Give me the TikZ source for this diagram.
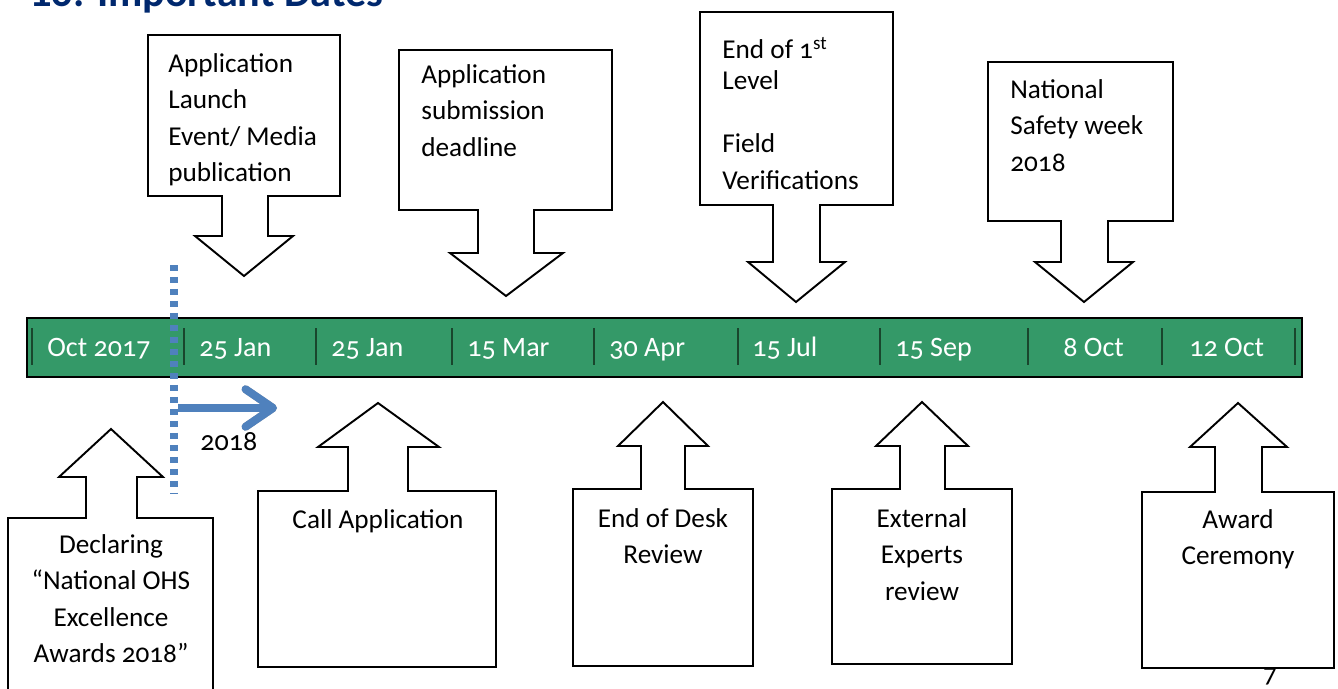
\documentclass[tikz,border=0pt]{standalone}
\usepackage{fontspec}
\setmainfont{Carlito}[Numbers=OldStyle]
\usetikzlibrary{arrows.meta}
\definecolor{bargreen}{RGB}{52,153,104}
\definecolor{sepgreen}{RGB}{25,70,45}
\definecolor{lineblue}{RGB}{79,129,189}
\definecolor{titleblue}{RGB}{0,40,110}

\begin{document}
\begin{tikzpicture}[x=0.02cm, y=-0.02cm,
  callout/.style={draw=black, fill=white, line width=1.1pt, line join=miter},
  boxtext/.style={inner sep=0pt, font=\fontsize{15.5}{20.8}\selectfont},
  datetext/.style={anchor=base west, inner sep=0pt, text=white, font=\fontsize{16}{19}\selectfont}]

\useasboundingbox (0,0) rectangle (1338,689);
\clip (0,0) rectangle (1338,689);

% heading, cut off by the top of the page
\node[anchor=base west, inner sep=0pt, text=titleblue, font=\fontsize{24}{28}\selectfont\bfseries] (title) at (30,7) {10. Important Dates};

% page number, half hidden behind the last box
\node[inner sep=0pt, font=\fontsize{15.5}{18}\selectfont] (pagenum) at (1270,677) {7};

% timeline bar
\node[draw=black, fill=bargreen, line width=1.1pt, inner sep=0pt, minimum width=25.5cm, minimum height=1.18cm, anchor=north west] (bar) at (26,317) {};

\foreach \x in {32, 184, 316, 452, 594, 738, 880, 1028, 1162, 1295}{

\draw[sepgreen, line width=1.1pt] (\x, 328) -- (\x, 365);

}

\foreach \x/\d [count=\i] in {47/Oct 2017, 199/25 Jan, 331/25 Jan, 467/15 Mar, 609/30 Apr, 752/15 Jul, 895/15 Sep, 1063/8 Oct, 1189/12 Oct}{

\node[datetext] (date\i) at (\x, 356) {\d};

}

% year change: dashed cut and arrow
\coordinate (cuttop) at (174, 265);
\coordinate (cutbot) at (174, 494);
\draw[gray!80, opacity=0.7, line width=4pt, dash pattern=on 0.12cm off 0.12cm, yshift=-0.06cm] (cuttop) -- (cutbot);
\draw[lineblue, line width=4pt, dash pattern=on 0.12cm off 0.12cm] (cuttop) -- (cutbot);

\coordinate (arrstart) at (178, 408);
\coordinate (arrend) at (277, 408);
\draw[gray!70, line width=4.5pt, -{Straight Barb[length=0.55cm, width=0.75cm, round]}, xshift=0.06cm, yshift=-0.06cm] (arrstart) -- (arrend);
\draw[lineblue, line width=4.5pt, -{Straight Barb[length=0.55cm, width=0.75cm, round]}] (arrstart) -- (arrend);

\node[anchor=base west, inner sep=0pt, font=\fontsize{16}{19}\selectfont] (year) at (200, 450) {2018};

% callouts: box x, box x, box y, joint y, shaft x, shaft x, head y, head x, head x, tip x, tip y
\foreach \xa/\xb/\ya/\yb/\sa/\sb/\yc/\ha/\hb/\xc/\yd in {
  148/340/35/196/222/268/236/195/293/244/276,
  399/612/50/210/478/534/253/450/563/506/296,
  700/893/12/205/773/820/262/748/845/796/302,
  988/1173/62/221/1061/1108/262/1035/1133/1084/302,
  8/213/720/518/86/137/477/59/163/111/429,
  258/496/667/491/348/408/447/318/439/378/403,
  573/753/666/489/641/685/446/618/708/663/402,
  832/1012/664/489/900/945/446/876/968/922/402,
  1142/1334/668/492/1215/1262/447/1190/1287/1238/403}{

\draw[callout] (\xa, \ya) -- (\xb, \ya) -- (\xb, \yb) -- (\sb, \yb) -- (\sb, \yc) -- (\hb, \yc) -- (\xc, \yd) -- (\ha, \yc) -- (\sa, \yc) -- (\sa, \yb) -- (\xa, \yb) -- cycle;

}

% texts above the bar
\node[boxtext, anchor=north west, align=left] (launch) at (168, 53) {Application\\Launch\\Event/ Media\\publication};
\node[boxtext, anchor=north west, align=left] (deadline) at (421, 64) {Application\\submission\\deadline};
\node[boxtext, anchor=north west, align=left] (fieldver) at (722, 37) {End of 1\textsuperscript{st}\\[-3pt]Level\\[15pt]Field\\Verifications};
\node[boxtext, anchor=north west, align=left] (safety) at (1010, 79) {National\\Safety week\\2018};

% texts below the bar
\node[boxtext, anchor=north, align=center] (declare) at (111, 534) {Declaring\\“National OHS\\Excellence\\Awards 2018”};
\node[boxtext, anchor=north, align=center] (callapp) at (378, 509) {Call Application};
\node[boxtext, anchor=north, align=center] (desk) at (663, 508) {End of Desk\\Review};
\node[boxtext, anchor=north, align=center] (experts) at (922, 508) {External\\Experts\\review};
\node[boxtext, anchor=north, align=center] (award) at (1238, 509) {Award\\Ceremony};

\end{tikzpicture}
\end{document}
